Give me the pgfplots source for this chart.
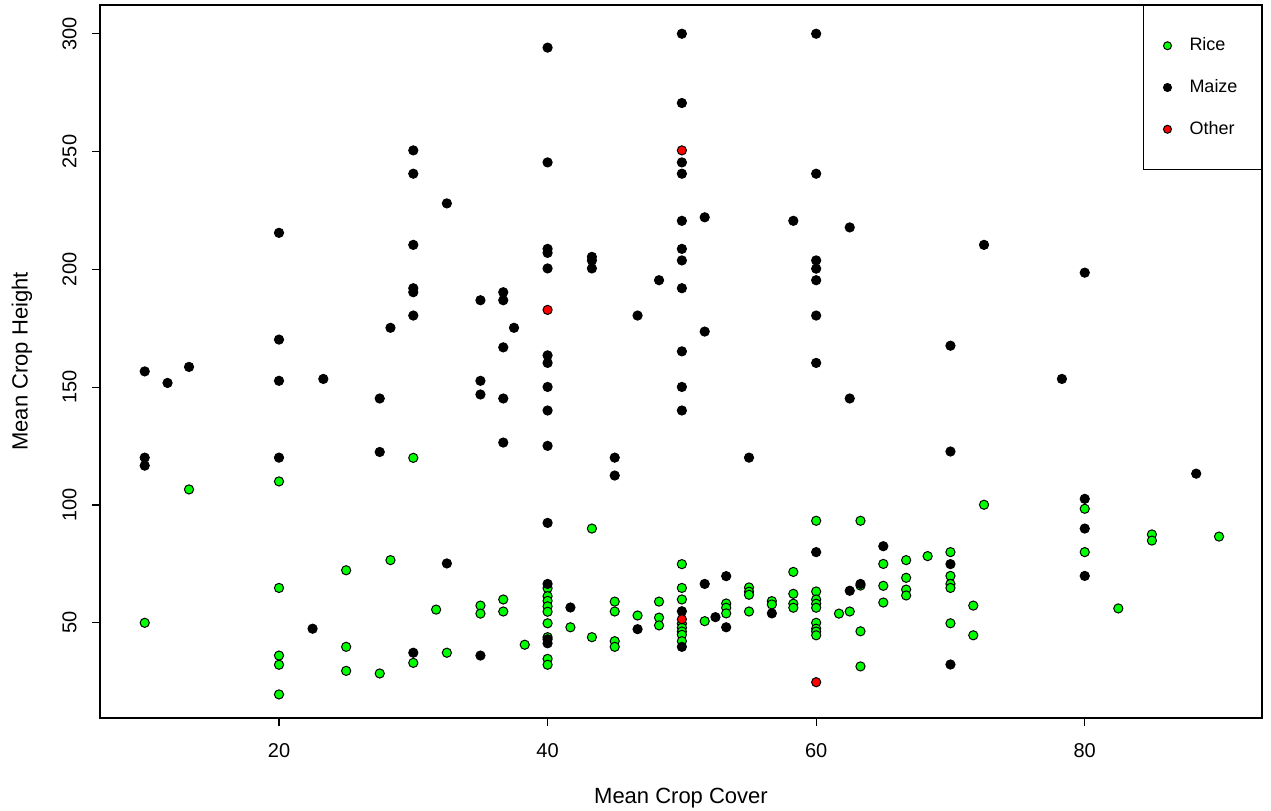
\documentclass[border=0pt]{standalone}
\usepackage{fontspec}
\setmainfont{Liberation Sans}
\usepackage{pgfplots}
\pgfplotsset{compat=1.18}
\definecolor{rgreen}{RGB}{0,255,0}
\definecolor{rred}{RGB}{255,0,0}
\begin{document}
\fontsize{9}{10.8}\selectfont
\begin{tikzpicture}
\useasboundingbox (-50pt,-46pt) rectangle (585.5pt,359pt);
\begin{axis}[
  at={(0pt,0pt)}, anchor=south west,
  scale only axis, width=581pt, height=356.5pt,
  xmin=6.67, xmax=93.2, ymin=9.6, ymax=312.2,
  xtick={20,40,60,80}, ytick={50,100,150,200,250,300},
  tick align=outside, major tick length=4pt,
  xtick pos=bottom, ytick pos=left,
  /pgf/number format/assume math mode=true,
  tick label style={font=\fontsize{10}{12}\selectfont},
  xticklabel shift=5.5pt,
  yticklabel shift=4.5pt,
  yticklabel style={rotate=90, anchor=south},
  axis line style={line width=0.55pt},
  every tick/.style={black, line width=0.55pt},
  every axis x label/.style={at={(axis description cs:0.5,-0.112)}, anchor=center, font=\fontsize{11}{13}\selectfont},
  every axis y label/.style={at={(axis description cs:-0.0671,0.5)}, anchor=center, rotate=90, font=\fontsize{11}{13}\selectfont},
  xlabel={Mean Crop Cover}, ylabel={Mean Crop Height},
  legend style={at={(1,1)}, anchor=north east, draw=black, fill=white,
    inner xsep=10pt, inner ysep=14.2pt, row sep=9pt, column sep=7pt,
    font=\fontsize{9}{10.8}\selectfont, line width=0.5pt},
  legend image post style={mark size=2pt},
  legend cell align=left,
]
\addplot[only marks, mark=*, mark size=2.3pt, mark options={draw=black, fill=rgreen, line width=0.5pt}] table {
x y
10 50
13.3 106.6
20 110
20 64.8
20 36.1
20 32.2
20 19.6
25 72.3
25 39.8
25 29.6
27.5 28.5
28.3 76.6
30 120
30 33
31.7 55.6
32.5 37.3
35 57.3
35 53.9
36.7 59.9
36.7 54.8
38.3 40.7
40 64.7
40 61.3
40 59.3
40 57
40 54.7
40 49.8
40 43.9
40 34.7
40 32.2
41.7 48.1
43.3 90
43.3 43.9
45 59
45 54.8
45 42.2
45 39.8
46.7 53.1
48.3 59
48.3 52.2
48.3 48.9
50 74.9
50 64.8
50 59.9
50 49.6
50 47.9
50 46.3
50 44.9
50 42.2
51.7 50.7
53.3 58.2
53.3 56.4
53.3 54
55 65
55 63.2
55 61.9
55 54.8
56.7 59.2
56.7 57.8
58.3 71.6
58.3 62.3
58.3 58.1
58.3 56.4
60 93.3
60 63.3
60 59.9
60 58.1
60 56.4
60 50
60 47.5
60 46.3
60 44.7
61.7 53.9
62.5 54.8
63.3 93.3
63.3 65.8
63.3 46.4
63.3 31.5
65 75
65 65.7
65 58.6
66.7 76.6
66.7 69.1
66.7 64.1
66.7 61.6
68.3 78.3
70 80
70 69.9
70 66.5
70 64.8
70 49.8
71.7 57.3
71.7 44.7
72.5 100.1
80 98.4
80 80
82.5 56.1
85 87.5
85 84.9
90 86.6
};
\addlegendentry{Rice}
\addplot[only marks, mark=*, mark size=2.3pt, mark options={draw=black, fill=black, line width=0.5pt}] table {
x y
10 156.7
10 120.1
10 116.7
11.7 151.8
13.3 158.6
20 215.5
20 170.2
20 152.7
20 120.1
22.5 47.5
23.3 153.5
27.5 145.2
27.5 122.5
28.3 175.2
30 250.5
30 240.6
30 210.4
30 192
30 190.3
30 180.4
30 37.3
32.5 228
32.5 75.2
35 186.9
35 152.7
35 146.9
35 36.1
36.7 190.3
36.7 186.9
36.7 166.9
36.7 145.2
36.7 126.5
37.5 175.2
40 294.1
40 245.4
40 208.7
40 207
40 200.4
40 163.5
40 160.3
40 150.1
40 140.1
40 125.1
40 92.4
40 66.5
40 43
40 41.3
41.7 56.5
43.3 205.3
43.3 203.8
43.3 200.4
45 120.1
45 112.5
46.7 180.4
46.7 47.3
48.3 195.4
50 300
50 270.6
50 245.4
50 240.6
50 220.6
50 208.7
50 203.8
50 192
50 165.2
50 150.1
50 140.1
50 54.9
50 39.8
51.7 222.1
51.7 173.6
51.7 66.5
52.5 52.4
53.3 69.8
53.3 48.1
55 120.1
56.7 54
58.3 220.6
60 300
60 240.6
60 203.8
60 200.3
60 195.4
60 180.4
60 160.3
60 80
62.5 217.8
62.5 145.2
62.5 63.6
63.3 66.5
65 82.5
70 167.6
70 122.7
70 74.9
70 32.3
72.5 210.4
78.3 153.5
80 198.6
80 102.6
80 90
80 69.9
88.3 113.3
};
\addlegendentry{Maize}
\addplot[only marks, mark=*, mark size=2.3pt, mark options={draw=black, fill=rred, line width=0.5pt}] table {
x y
40 182.8
50 250.5
50 51.5
60 24.8
};
\addlegendentry{Other}
\end{axis}
\end{tikzpicture}
\end{document}
